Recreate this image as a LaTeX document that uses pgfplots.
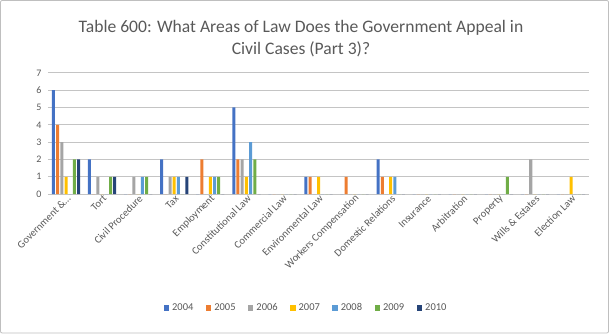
\documentclass[border=0pt]{standalone}
\usepackage{pgfplots}
\pgfplotsset{compat=1.18}
\usepackage{pgfplotstable}
\usepackage{fontspec}
\setmainfont{Carlito}
\definecolor{c04}{HTML}{4472C4}
\definecolor{c05}{HTML}{ED7D31}
\definecolor{c06}{HTML}{A5A5A5}
\definecolor{c07}{HTML}{FFC000}
\definecolor{c08}{HTML}{5B9BD5}
\definecolor{c09}{HTML}{70AD47}
\definecolor{c10}{HTML}{264478}
\definecolor{txt}{HTML}{595959}
\definecolor{gridc}{HTML}{C4C4C4}
\pgfplotstableread{
x a b c d e f g
0 6 4 3 1 0 2 2
1 2 0 1 0 0 1 1
2 0 0 1 0 1 1 0
3 2 0 1 1 1 0 1
4 0 2 0 1 1 1 0
5 5 2 2 1 3 2 0
6 0 0 0 0 0 0 0
7 1 1 0 1 0 0 0
8 0 1 0 0 0 0 0
9 2 1 0 1 1 0 0
10 0 0 0 0 0 0 0
11 0 0 0 0 0 0 0
12 0 0 0 0 0 1 0
13 0 0 2 0 0 0 0
14 0 0 0 1 0 0 0
}\data
\begin{document}
\begin{tikzpicture}
\draw[black!25, line width=0.8bp, rounded corners=2bp] (1bp,1bp) rectangle (608bp,333bp);
\node[text=txt, font=\fontsize{17.6}{21.5}\selectfont, align=center] at (301bp,295bp) {Table 600: What Areas of Law Does the Government Appeal in\\Civil Cases (Part 3)?};
\begin{axis}[
  at={(48.5bp,139.7bp)}, anchor=south west,
  scale only axis, width=540bp, height=121bp,
  ybar=1.2bp, bar width=3bp,
  xmin=-0.5, xmax=14.5, ymin=0, ymax=7,
  ytick={0,1,2,3,4,5,6,7},
  xtick={0,1,2,3,4,5,6,7,8,9,10,11,12,13,14},
  xtick pos=bottom, ytick pos=left,
  xticklabels={{Government \&\ldots}, Tort, Civil Procedure, Tax, Employment, Constitutional Law, Commercial Law, Environmental Law, Workers Compensation, Domestic Relations, Insurance, Arbitration, Property, {Wills \& Estates}, Election Law},
  xticklabel style={rotate=45, anchor=east, font=\fontsize{10.5}{12}\selectfont, text=txt, inner sep=1bp, yshift=-4bp, xshift=1bp},
  yticklabel style={font=\fontsize{10}{12}\selectfont, text=txt, xshift=-3bp},
  /pgf/number format/assume math mode=true,
  major tick length=0pt,
  ymajorgrids=true,
  major grid style={gridc, line width=1bp},
  axis line style={draw=none},
  legend columns=7,
  legend style={draw=none, at={(0.477,-0.94)}, anchor=center, font=\fontsize{10.5}{12}\selectfont, text=txt, /tikz/every even column/.append style={column sep=10.5bp}, /tikz/every odd column/.append style={column sep=1bp}},
  legend image code/.code={\fill[#1] (0bp,-2.7bp) rectangle (5.4bp,2.7bp);},
]
\addplot[fill=c04, draw=none] table[x=x,y=a]{\data};
\addplot[fill=c05, draw=none] table[x=x,y=b]{\data};
\addplot[fill=c06, draw=none] table[x=x,y=c]{\data};
\addplot[fill=c07, draw=none] table[x=x,y=d]{\data};
\addplot[fill=c08, draw=none] table[x=x,y=e]{\data};
\addplot[fill=c09, draw=none] table[x=x,y=f]{\data};
\addplot[fill=c10, draw=none] table[x=x,y=g]{\data};
\legend{2004,2005,2006,2007,2008,2009,2010}
\end{axis}
\end{tikzpicture}
\end{document}
